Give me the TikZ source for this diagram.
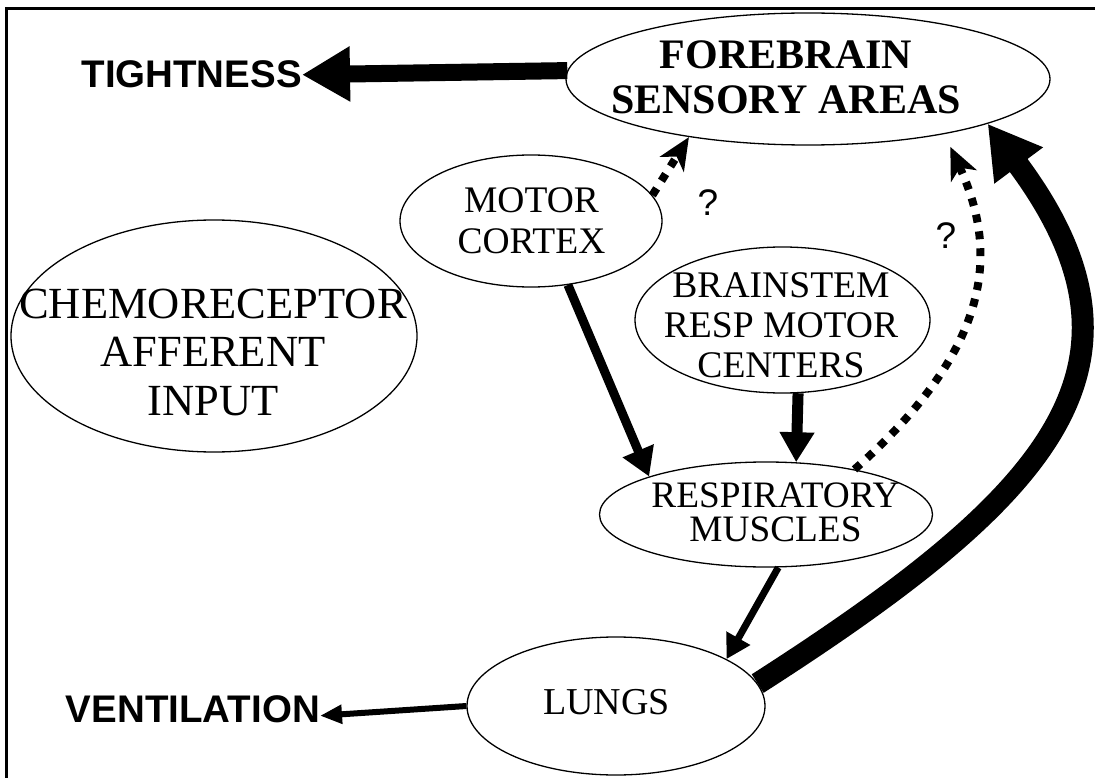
\documentclass[tikz,border=0pt]{standalone}
\usepackage{fontspec}
\setmainfont{Liberation Serif}
\newfontfamily\arialf{Liberation Sans}
\usetikzlibrary{arrows.meta,shapes.geometric}
\begin{document}
\begin{tikzpicture}[x=1pt,y=-1pt,
  oval/.style={ellipse, draw, line width=1.3pt, inner sep=0pt},
  lbl/.style={align=center, inner sep=0pt},
  sanslbl/.style={inner sep=0pt, anchor=base east, font=\fontsize{38.5}{40}\selectfont\arialf\bfseries},
  qm/.style={inner sep=0pt, anchor=base, font=\fontsize{37}{40}\selectfont\arialf},
  dotarrow/.style={line width=8pt, dash pattern=on 8pt off 9pt, -{Stealth[length=32pt,width=28pt,inset=9pt]}},
]
\useasboundingbox (0,0) rectangle (1095,778);
\draw[line width=3pt] (6,778) -- (6,8.5) -- (1095,8.5);

% ellipses
\node[oval, minimum width=484pt, minimum height=132pt] (fore) at (808,79) {};
\node[oval, minimum width=262pt, minimum height=132pt] (motor) at (531,221) {};
\node[oval, minimum width=406pt, minimum height=232pt] (chemo) at (214,336) {};
\node[oval, minimum width=295pt, minimum height=146pt] (brain) at (782.5,320) {};
\node[oval, minimum width=333pt, minimum height=105pt] (resp) at (766,514.5) {};
\node[oval, minimum width=298pt, minimum height=138pt] (lungs) at (616,706) {};

% texts in ellipses
\node[lbl, font=\fontsize{42}{45}\selectfont\bfseries] (foreT) at ([shift={(-22,-2)}]fore.center) {FOREBRAIN\\SENSORY AREAS};
\node[lbl, font=\fontsize{37.5}{41}\selectfont] (motorT) at ([shift={(0.5,0)}]motor.center) {MOTOR\\CORTEX};
\node[lbl, font=\fontsize{44.5}{48.5}\selectfont] (chemoT) at ([shift={(-1,16)}]chemo.center) {CHEMORECEPTOR\\AFFERENT\\INPUT};
\node[lbl, font=\fontsize{37.6}{40}\selectfont] (brainT) at ([shift={(-1.5,5)}]brain.center) {BRAINSTEM\\RESP MOTOR\\CENTERS};
\node[lbl, font=\fontsize{37.3}{34}\selectfont] (respT) at ([shift={(9.5,-2)}]resp.center) {RESPIRATORY\\MUSCLES};
\node[lbl, font=\fontsize{38}{40}\selectfont] (lungsT) at ([shift={(-9.5,-3.5)}]lungs.center) {LUNGS};

% outside labels
\node[sanslbl] (tight) at (302,88) {TIGHTNESS};
\node[sanslbl] (vent) at (320,722) {VENTILATION};
\node[qm] (q1) at (708,215) {?};
\node[qm] (q2) at (946,248) {?};

% connectors
\draw[line width=17pt, -{Triangle[length=48pt,width=52pt]}] (fore.178) -- (tight.east);
\draw[line width=6pt, -{Triangle[length=22pt,width=18pt]}] (lungs.180) -- ([yshift=-7pt]vent.east);
\draw[line width=9pt, -{Triangle[length=28pt,width=32pt]}] (motor.-60) -- (resp.162);
\draw[line width=11pt, -{Triangle[length=30pt,width=33pt]}] (brain.-78) -- (resp.60);
\draw[line width=7pt, -{Triangle[length=24pt,width=26pt]}] (resp.-77) -- (lungs.23);
\draw[line width=22pt, -{Triangle[length=52pt,width=57pt]}] (lungs.9) .. controls (1050,496) and (1168,366) .. (fore.-14);
\draw[dotarrow] (motor.12) -- (fore.206);
\draw[dotarrow, shorten >=14pt] (resp.27) .. controls (995,345) and (998,250) .. (fore.-22);
\end{tikzpicture}
\end{document}
